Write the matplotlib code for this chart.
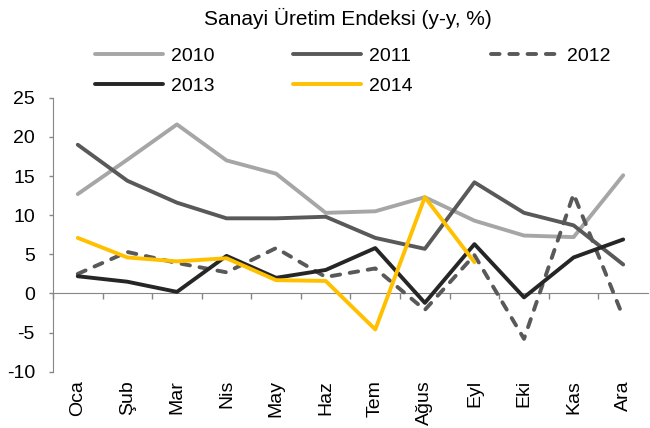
import numpy as np
import matplotlib.pyplot as plt

months = ["Oca", "Şub", "Mar", "Nis", "May", "Haz", "Tem", "Ağus", "Eyl", "Eki", "Kas", "Ara"]

y2010 = [12.7, 17.1, 21.6, 17.0, 15.3, 10.3, 10.5, 12.3, 9.3, 7.4, 7.2, 15.1]
y2011 = [19.0, 14.4, 11.6, 9.6, 9.6, 9.8, 7.1, 5.7, 14.2, 10.3, 8.7, 3.7]
y2012 = [2.5, 5.3, 3.9, 2.7, 5.8, 2.1, 3.2, -2.1, 4.9, -5.8, 12.7, -3.0]
y2013 = [2.2, 1.5, 0.2, 4.8, 2.0, 3.0, 5.8, -1.2, 6.3, -0.5, 4.6, 6.9]
y2014 = [7.1, 4.6, 4.1, 4.5, 1.7, 1.6, -4.6, 12.3, 4.0]

plt.rcParams['font.family'] = ['Liberation Sans', 'DejaVu Sans']
plt.rcParams['axes.unicode_minus'] = False

fig = plt.figure(figsize=(6.5, 4.28), dpi=100)
ax = fig.add_axes([0.0815, 0.1315, 0.9154, 0.640])

x = np.arange(len(months))
lw = 2.8
kw = dict(lw=lw, solid_capstyle="round", dash_capstyle="round")
l10, = ax.plot(x, y2010, color="#A6A6A6", label="2010", **kw)
l11, = ax.plot(x, y2011, color="#595959", label="2011", **kw)
l12, = ax.plot(x, y2012, color="#595959", dashes=(2.2, 2.5), label="2012", **kw)
l13, = ax.plot(x, y2013, color="#262626", label="2013", **kw)
l14, = ax.plot(np.arange(len(y2014)), y2014, color="#FFC000", label="2014", **kw)

ax.set_xlim(-0.5, len(months) - 0.5)
ax.set_ylim(-10, 25)
ax.set_yticks(np.arange(-10, 26, 5))

axis_col = "#868686"
for s in ["top", "right", "bottom"]:
    ax.spines[s].set_visible(False)
ax.spines["left"].set_color(axis_col)
ax.tick_params(axis="y", colors=axis_col, labelcolor="black", labelsize=14, length=3, width=1, pad=10)
ax.set_xticks(x)
ax.set_xticklabels(months, rotation=90, fontsize=14)
ax.tick_params(axis="x", length=0, pad=6)

# zero line with category boundary ticks
sec = ax.secondary_xaxis(10 / 35)
sec.set_xticks(np.arange(len(months)) - 0.5)
sec.tick_params(axis="x", direction="out", length=4, width=1, colors=axis_col, labelbottom=False)
sec.spines["bottom"].set_color(axis_col)

handles = [l10, l13, l11, l14, l12]
fig.legend(handles=handles, labels=[h.get_label() for h in handles], ncol=3,
           loc="upper left", bbox_to_anchor=(0.146, 0.89), frameon=False,
           fontsize=14, handlelength=3.5, handletextpad=0.4, columnspacing=4.05,
           labelspacing=0.65, borderpad=0, borderaxespad=0)

fig.text(0.535, 1 - 18 / 428, "Sanayi Üretim Endeksi (y-y, %)", ha="center", va="center", fontsize=15)

fig.savefig("out.png", dpi=100)
